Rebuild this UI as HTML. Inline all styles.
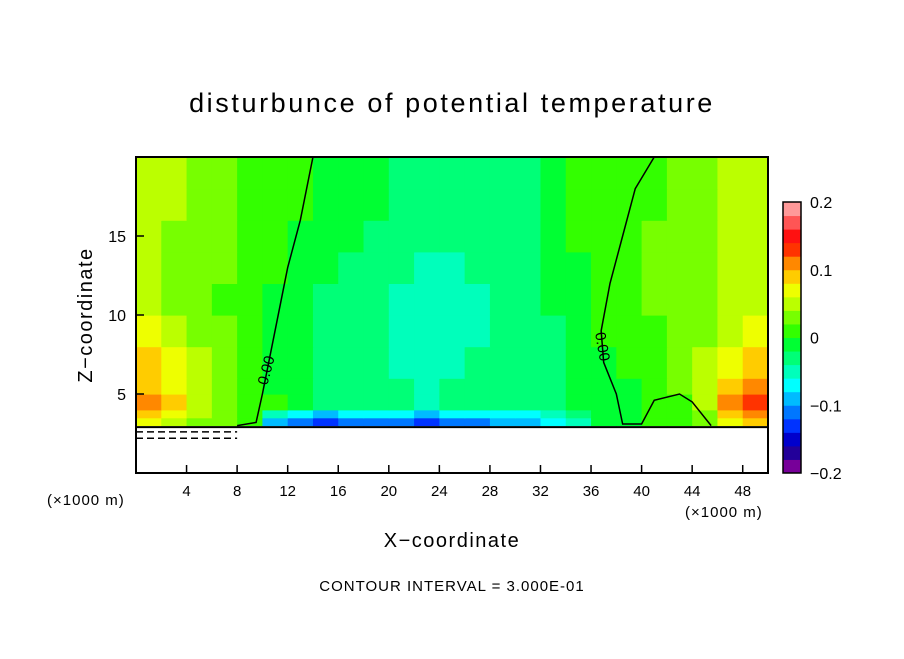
<!DOCTYPE html>
<html><head><meta charset="utf-8"><style>
body{margin:0;background:#fff;}
svg text{font-family:"Liberation Sans","DejaVu Sans",sans-serif;fill:#000;}
</style></head><body>
<svg id="chart" width="904" height="654" viewBox="0 0 904 654" xmlns="http://www.w3.org/2000/svg">
<rect width="904" height="654" fill="#fff"/>
<text x="452" y="112" font-size="27" text-anchor="middle" letter-spacing="2.6">disturbunce of potential temperature</text>
<g id="field"></g>
<g id="bottom"></g>
<g id="contours"></g>
<g id="axes"></g>
<g id="cbar"></g>
<text x="452" y="547" font-size="20" text-anchor="middle" letter-spacing="1.5">X−coordinate</text>
<text transform="translate(92,315) rotate(-90)" font-size="20" text-anchor="middle" letter-spacing="1.5">Z−coordinate</text>
<text x="47" y="505" font-size="15" letter-spacing="1">(×1000 m)</text>
<text x="685" y="517" font-size="15" letter-spacing="1">(×1000 m)</text>
<text x="452" y="591" font-size="15" text-anchor="middle" letter-spacing="1">CONTOUR INTERVAL = 3.000E-01</text>
</svg>
<script>
const xCenters=[1,3,5,7,9,11,13,15,17,19,21,23,25,27,29,31,33,35,37,39,41,43,45,47,49];
const zEdges=[3,3.5,4,5,6,8,10,12,14,16,18,20];
const fieldRows=[
[0.07,0.05,0.03,0.03,0.01,-0.09,-0.11,-0.13,-0.11,-0.11,-0.11,-0.13,-0.11,-0.11,-0.09,-0.09,-0.07,-0.05,-0.01,-0.01,0.01,0.01,0.03,0.07,0.09],
[0.09,0.07,0.05,0.03,0.01,-0.05,-0.07,-0.09,-0.07,-0.07,-0.07,-0.09,-0.07,-0.07,-0.07,-0.07,-0.05,-0.03,-0.01,-0.01,0.01,0.01,0.03,0.09,0.11],
[0.11,0.09,0.05,0.03,0.01,0.01,-0.01,-0.03,-0.03,-0.03,-0.03,-0.05,-0.03,-0.03,-0.03,-0.03,-0.03,-0.01,-0.01,-0.01,0.01,0.01,0.05,0.11,0.13],
[0.09,0.07,0.05,0.03,0.01,-0.01,-0.01,-0.03,-0.03,-0.03,-0.03,-0.05,-0.03,-0.03,-0.03,-0.03,-0.03,-0.01,-0.01,-0.01,0.01,0.03,0.05,0.09,0.11],
[0.09,0.07,0.05,0.03,0.01,-0.01,-0.01,-0.03,-0.03,-0.03,-0.05,-0.05,-0.05,-0.03,-0.03,-0.03,-0.03,-0.01,-0.01,0.01,0.01,0.03,0.05,0.07,0.09],
[0.07,0.05,0.03,0.03,0.01,-0.01,-0.01,-0.03,-0.03,-0.03,-0.05,-0.05,-0.05,-0.05,-0.03,-0.03,-0.03,-0.01,0.01,0.01,0.01,0.03,0.03,0.05,0.07],
[0.05,0.03,0.03,0.01,0.01,-0.01,-0.01,-0.03,-0.03,-0.03,-0.05,-0.05,-0.05,-0.05,-0.03,-0.03,-0.01,-0.01,0.01,0.01,0.03,0.03,0.03,0.05,0.05],
[0.05,0.03,0.03,0.03,0.01,0.01,-0.01,-0.01,-0.03,-0.03,-0.03,-0.05,-0.05,-0.03,-0.03,-0.03,-0.01,-0.01,0.01,0.01,0.03,0.03,0.03,0.05,0.05],
[0.05,0.03,0.03,0.03,0.01,0.01,-0.01,-0.01,-0.01,-0.03,-0.03,-0.03,-0.03,-0.03,-0.03,-0.03,-0.01,0.01,0.01,0.01,0.03,0.03,0.03,0.05,0.05],
[0.05,0.05,0.03,0.03,0.01,0.01,0.01,-0.01,-0.01,-0.01,-0.03,-0.03,-0.03,-0.03,-0.03,-0.03,-0.01,0.01,0.01,0.01,0.01,0.03,0.03,0.05,0.05],
[0.05,0.05,0.03,0.03,0.01,0.01,0.01,-0.01,-0.01,-0.01,-0.03,-0.03,-0.03,-0.03,-0.03,-0.03,-0.01,0.01,0.01,0.01,0.01,0.03,0.03,0.05,0.05]
];
const levelColors=["#770099","#220099","#0000cc","#0033ff","#0077ff","#00bbff","#00ffff","#00ffbb","#00ff77","#00ff33","#33ff00","#77ff00","#bbff00","#eeff00","#ffcc00","#ff8800","#ff3300","#ff1111","#ff5555","#ff9999"];
const cbarTicks=[-0.2,-0.1,0,0.1,0.2];
const cbarTickLabels=["−0.2","−0.1","0","0.1","0.2"];
const xTicks=[4,8,12,16,20,24,28,32,36,40,44,48];
const yTicks=[5,10,15];
const contour0Left=[[8,3],[9.5,3.2],[10,5],[10.5,7],[11,9],[11.5,11],[12,13],[13,16],[14,20]];
const contour0Right=[[45.5,3],[44,4.5],[43,5],[41,4.6],[40,3.1],[38.5,3.1],[38,5],[37,7],[36.8,9],[37.5,12],[38.5,15],[39.5,18],[41,20]];
const groundZ=2.9;

const X0=136,X1=768,Y0=473,Y1=157,XMAX=50,ZMAX=20;
const sx=v=>X0+v/XMAX*(X1-X0);
const sz=v=>Y0-v/ZMAX*(Y0-Y1);
const colorFor=v=>{let k=Math.floor((v+0.2)/0.02);k=Math.max(0,Math.min(19,k));return levelColors[k];};
const NS="http://www.w3.org/2000/svg";
function mk(tag,parent){const e=document.createElementNS(NS,tag);parent.appendChild(e);return e;}

const field=document.getElementById('field');
const dx=xCenters[1]-xCenters[0];
fieldRows.forEach((row,ri)=>{
  row.forEach((v,ci)=>{
    const r=mk('rect',field);
    
    
    const xa=sx(xCenters[ci]-dx/2),xb=sx(xCenters[ci]+dx/2);
    const ya=sz(zEdges[ri+1]),yb=sz(zEdges[ri]);
    r.setAttribute('x',xa);r.setAttribute('y',ya);
    r.setAttribute('width',xb-xa+0.6);r.setAttribute('height',yb-ya+0.6);
    r.setAttribute('fill',colorFor(v));
  });
});

const bottom=document.getElementById('bottom');
const wr=mk('rect',bottom);


wr.setAttribute('x',X0);wr.setAttribute('y',sz(groundZ));
wr.setAttribute('width',X1-X0);wr.setAttribute('height',Y0-sz(groundZ));
wr.setAttribute('fill','#fff');
const gl=mk('line',bottom);


gl.setAttribute('x1',X0);gl.setAttribute('x2',X1);
gl.setAttribute('y1',sz(groundZ));gl.setAttribute('y2',sz(groundZ));
gl.setAttribute('stroke','#000');gl.setAttribute('stroke-width','2');
[2.6,2.2].forEach(z=>{
  const d=mk('line',bottom);
  
  
  d.setAttribute('x1',sx(0));d.setAttribute('x2',sx(8));
  d.setAttribute('y1',sz(z));d.setAttribute('y2',sz(z));
  d.setAttribute('stroke','#000');d.setAttribute('stroke-width','1.5');
  d.setAttribute('stroke-dasharray','7,4');
});

const cont=document.getElementById('contours');
[contour0Left,contour0Right].forEach((pts,i)=>{
  const p=mk('polyline',cont);
  
  
  p.setAttribute('points',pts.map(q=>sx(q[0])+','+sz(q[1])).join(' '));
  p.setAttribute('fill','none');p.setAttribute('stroke','#000');p.setAttribute('stroke-width','1.5');
});
[[10.3,6.5,-75],[36.9,8,80]].forEach((l,i)=>{
  const t=mk('text',cont);
  
  
  t.setAttribute('transform','translate('+sx(l[0])+','+sz(l[1])+') rotate('+l[2]+')');
  t.setAttribute('font-size','15');t.setAttribute('text-anchor','middle');t.setAttribute('dy','5');
  t.textContent='0.00';
});

const axes=document.getElementById('axes');
const fr=mk('rect',axes);


fr.setAttribute('x',X0);fr.setAttribute('y',Y1);fr.setAttribute('width',X1-X0);fr.setAttribute('height',Y0-Y1);
fr.setAttribute('fill','none');fr.setAttribute('stroke','#000');fr.setAttribute('stroke-width','2');
xTicks.forEach(v=>{
  const l=mk('line',axes);
  
  
  l.setAttribute('x1',sx(v));l.setAttribute('x2',sx(v));l.setAttribute('y1',Y0);l.setAttribute('y2',Y0-8);
  l.setAttribute('stroke','#000');l.setAttribute('stroke-width','1.5');
  const t=mk('text',axes);
  
  
  t.setAttribute('x',sx(v));t.setAttribute('y',Y0+23);t.setAttribute('font-size','15');t.setAttribute('text-anchor','middle');
  t.textContent=v;
});
yTicks.forEach(v=>{
  const l=mk('line',axes);
  
  
  l.setAttribute('x1',X0);l.setAttribute('x2',X0+8);l.setAttribute('y1',sz(v));l.setAttribute('y2',sz(v));
  l.setAttribute('stroke','#000');l.setAttribute('stroke-width','1.5');
  const t=mk('text',axes);
  
  
  t.setAttribute('x',X0-10);t.setAttribute('y',sz(v)+6);t.setAttribute('font-size','16');t.setAttribute('text-anchor','end');
  t.textContent=v;
});

const cb=document.getElementById('cbar');
const CX=783,CW=18,CY0=473,CY1=202;
const cy=v=>CY0-(v+0.2)/0.4*(CY0-CY1);
levelColors.forEach((c,k)=>{
  const r=mk('rect',cb);
  
  
  const lo=-0.2+0.02*k,hi=lo+0.02;
  r.setAttribute('x',CX);r.setAttribute('y',cy(hi));r.setAttribute('width',CW);r.setAttribute('height',cy(lo)-cy(hi)+0.5);
  r.setAttribute('fill',c);
});
const cf=mk('rect',cb);


cf.setAttribute('x',CX);cf.setAttribute('y',CY1);cf.setAttribute('width',CW);cf.setAttribute('height',CY0-CY1);
cf.setAttribute('fill','none');cf.setAttribute('stroke','#000');cf.setAttribute('stroke-width','1.5');
cbarTicks.forEach((v,i)=>{
  const t=mk('text',cb);
  
  
  t.setAttribute('x',CX+27);t.setAttribute('y',cy(v)+6);t.setAttribute('font-size','16');
  t.textContent=cbarTickLabels[i];
});
</script>
</body></html>
